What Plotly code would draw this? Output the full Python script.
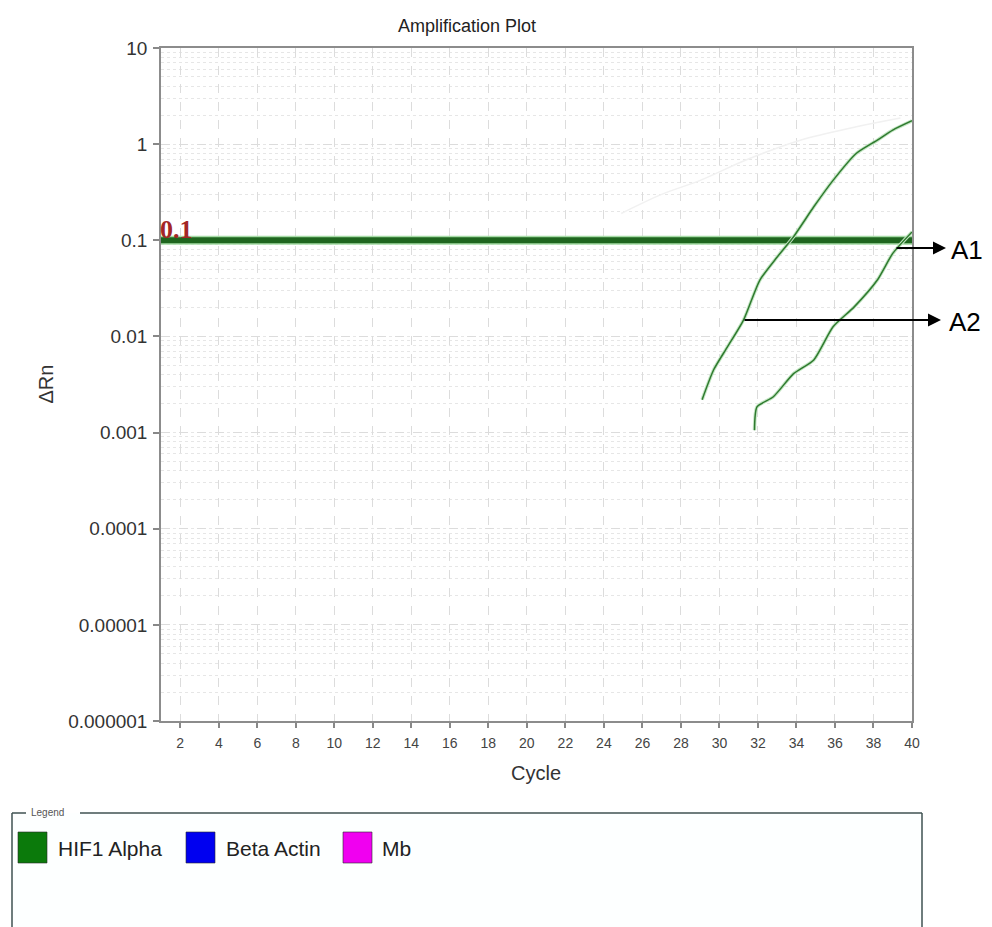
import plotly.graph_objects as go

# ---- data -------------------------------------------------------------
threshold_cycles = [1, 40]
threshold_values = [0.1, 0.1]

a2_cycles = [29.1, 29.7, 30.4, 31.25, 32.1, 33.0, 33.85, 34.9, 35.9, 37.1, 38.2, 39.0, 40.0]
a2_values = [0.0022, 0.0045, 0.0077, 0.0148, 0.0386, 0.067, 0.109, 0.223, 0.42, 0.80, 1.10, 1.40, 1.75]

a1_cycles = [31.82, 31.95, 32.8, 33.85, 34.9, 35.9, 37.0, 38.2, 39.0, 40.0]
a1_values = [0.00106, 0.00185, 0.00236, 0.0041, 0.0057, 0.0126, 0.0203, 0.0386, 0.073, 0.122]

bg_cycles = [24.9, 27.0, 29.0, 31.5, 34.2, 37.0, 39.4]
bg_values = [0.19, 0.30, 0.42, 0.70, 1.10, 1.50, 1.87]

x_ticks = list(range(2, 41, 2))
y_tickvals = [10, 1, 0.1, 0.01, 0.001, 0.0001, 0.00001, 0.000001]
y_ticktext = ["10", "1", "0.1", "0.01", "0.001", "0.0001", "0.00001", "0.000001"]

legend_names = ["HIF1 Alpha", "Beta Actin", "Mb"]
legend_colors = ["#0b7a0b", "#0000f0", "#f000f0"]

# ---- canvas geometry ----------------------------------------------------
W, H = 992, 927
L, R, T, B = 161, 912, 48, 721


def px(xp):
    return (xp - L) / (R - L)


def py(yp):
    return (B - yp) / (B - T)


FONT = "Liberation Sans, Arial, sans-serif"
CURVE = "#2f7a2f"

fig = go.Figure()

fig.add_trace(go.Scatter(x=bg_cycles, y=bg_values, mode="lines",
                         line=dict(color="#f1f1f1", width=1.5, shape="spline"),
                         hoverinfo="skip", showlegend=False))

# threshold line with soft halo
fig.add_trace(go.Scatter(x=threshold_cycles, y=threshold_values, mode="lines",
                         line=dict(color="#a6dca6", width=9),
                         hoverinfo="skip", showlegend=False, cliponaxis=False))
fig.add_trace(go.Scatter(x=threshold_cycles, y=threshold_values, mode="lines",
                         line=dict(color="#1f661f", width=6),
                         showlegend=False, cliponaxis=False))

for cx, cy in ((a2_cycles, a2_values), (a1_cycles, a1_values)):
    fig.add_trace(go.Scatter(x=cx, y=cy, mode="lines",
                             line=dict(color="#c4e6c4", width=3.5, shape="spline",
                                       smoothing=0.6),
                             hoverinfo="skip", showlegend=False))
    fig.add_trace(go.Scatter(x=cx, y=cy, mode="lines",
                             line=dict(color=CURVE, width=1.5, shape="spline",
                                       smoothing=0.6),
                             showlegend=False))

grid = "#dcdcdc"
fig.update_xaxes(range=[1, 40], tickvals=x_ticks, ticks="outside", ticklen=5,
                 tickcolor="#888", tickwidth=1.5, ticklabelstandoff=3,
                 showline=True, linecolor="#8c8c8c", linewidth=1.5, mirror=True,
                 showgrid=True, gridcolor=grid, griddash="dash", gridwidth=1,
                 zeroline=False,
                 tickfont=dict(family=FONT, size=14, color="#444"))
fig.update_yaxes(type="log", range=[-6, 1], tickvals=y_tickvals, ticktext=y_ticktext,
                 ticks="outside", ticklen=6, tickcolor="#888", tickwidth=1.5,
                 ticklabelstandoff=2,
                 showline=True, linecolor="#8c8c8c", linewidth=1.5, mirror=True,
                 showgrid=True, gridcolor=grid, griddash="dash", gridwidth=1,
                 minor=dict(showgrid=True, dtick="D1", gridcolor="#e6e6e6",
                            griddash="dot", ticks=""),
                 zeroline=False,
                 tickfont=dict(family=FONT, size=19, color="#333"))

ann = []
# threshold value label
ann.append(dict(x=1, y=-1, xref="x", yref="y", text="<b>0.1</b>", showarrow=False,
                xanchor="left", yanchor="bottom", xshift=-3, yshift=-6,
                font=dict(family="Liberation Serif, Times New Roman, serif", size=26,
                          color="#a32626")))
# axis titles
ann.append(dict(x=px(45), y=0.5, xref="paper", yref="paper", text="ΔRn", textangle=-90,
                showarrow=False, xanchor="center", yanchor="middle",
                font=dict(family=FONT, size=20, color="#333")))
ann.append(dict(x=px(536), y=py(773), xref="paper", yref="paper", text="Cycle",
                showarrow=False, xanchor="center", yanchor="middle",
                font=dict(family=FONT, size=20, color="#333")))

# A1 / A2 call-outs
for label, tail_x, head_x, yy, text_x in (("A1", 895, 946, 248, 949),
                                         ("A2", 743, 941, 320, 947)):
    ann.append(dict(x=px(head_x), y=py(yy), xref="paper", yref="paper", text="",
                    showarrow=True, axref="pixel", ayref="pixel",
                    ax=tail_x - head_x, ay=0, arrowhead=2, arrowsize=1.3,
                    arrowwidth=2, arrowcolor="black"))
    ann.append(dict(x=px(text_x), y=py(yy + 2), xref="paper", yref="paper", text=label,
                    showarrow=False, xanchor="left", yanchor="middle",
                    font=dict(family=FONT, size=26, color="black")))

# legend panel
shapes = []
box_top, box_left, box_right, box_bot = 813, 12, 922, 960
shapes.append(dict(type="rect", xref="paper", yref="paper",
                   x0=px(box_left), x1=px(box_right), y0=py(box_bot), y1=py(box_top),
                   fillcolor="#fdffff", line=dict(width=0), layer="below"))
edge = dict(color="#3f5252", width=1.5)
shapes.append(dict(type="line", xref="paper", yref="paper", x0=px(box_left), x1=px(26),
                   y0=py(box_top), y1=py(box_top), line=edge))
shapes.append(dict(type="line", xref="paper", yref="paper", x0=px(80), x1=px(box_right),
                   y0=py(box_top), y1=py(box_top), line=edge))
shapes.append(dict(type="line", xref="paper", yref="paper", x0=px(box_left), x1=px(box_left),
                   y0=py(box_top), y1=py(box_bot), line=edge))
shapes.append(dict(type="line", xref="paper", yref="paper", x0=px(box_right), x1=px(box_right),
                   y0=py(box_top), y1=py(box_bot), line=edge))
ann.append(dict(x=px(29), y=py(812), xref="paper", yref="paper", text="Legend",
                showarrow=False, xanchor="left", yanchor="middle",
                font=dict(family=FONT, size=10, color="#555")))

sw_left = [18, 186, 343]
txt_left = [56, 224, 380]
for name, color, sx, tx in zip(legend_names, legend_colors, sw_left, txt_left):
    shapes.append(dict(type="rect", xref="paper", yref="paper",
                       x0=px(sx), x1=px(sx + 29), y0=py(863), y1=py(832),
                       fillcolor=color, line=dict(color="#2a2a2a", width=0.6)))
    ann.append(dict(x=px(tx), y=py(848), xref="paper", yref="paper", text=name,
                    showarrow=False, xanchor="left", yanchor="middle",
                    font=dict(family=FONT, size=21, color="#222")))

fig.update_layout(
    width=W, height=H,
    margin=dict(l=L, r=W - R, t=T, b=H - B),
    paper_bgcolor="white", plot_bgcolor="white",
    title=dict(text="Amplification Plot", x=467 / W, xanchor="center",
               y=1 - 26 / H, yanchor="middle", yref="container",
               font=dict(family=FONT, size=18, color="#222")),
    annotations=ann, shapes=shapes, showlegend=False,
)

fig.write_html("out.html")
